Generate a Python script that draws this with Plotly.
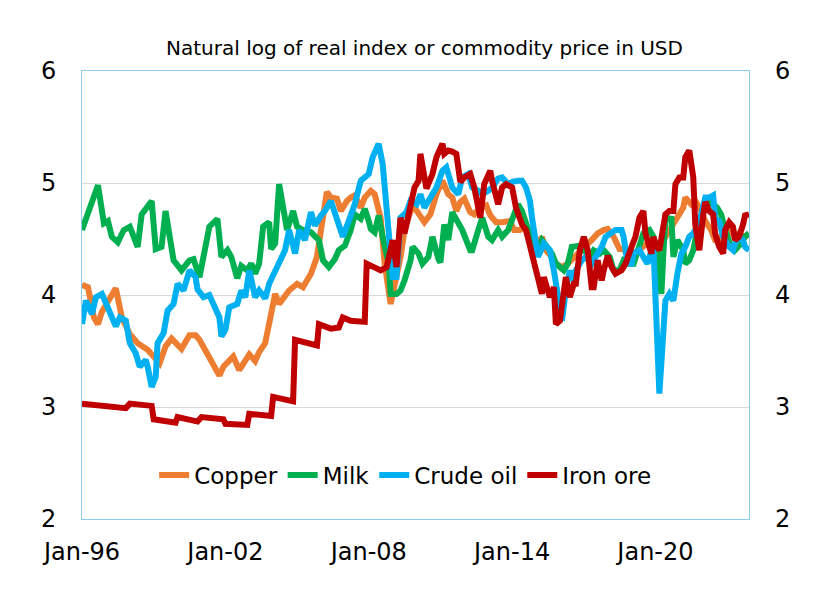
import plotly.graph_objects as go

# ---------------- data ----------------
copper_dates = ["1996-01","1996-04","1996-07","1996-09","1996-11","1997-02","1997-06","1997-09","1998-01","1998-05",
    "1998-10","1999-04","1999-07","1999-10","2000-03","2000-07","2000-10","2000-12","2001-03","2001-05",
    "2001-08","2001-10","2001-12","2002-03","2002-05","2002-08","2002-11","2003-01","2003-04","2003-06",
    "2003-09","2003-11","2004-02","2004-04","2004-07","2004-09","2005-01","2005-04","2005-08","2005-11",
    "2006-01","2006-04","2006-06","2006-09","2006-11","2007-02","2007-04","2007-06","2007-09","2007-11",
    "2008-02","2008-04","2008-07","2008-09","2008-12","2009-02","2009-05","2009-07","2009-10","2009-12",
    "2010-03","2010-05","2010-08","2010-11","2011-02","2011-05","2011-07","2011-09","2011-11","2012-01",
    "2012-04","2012-06","2012-09","2012-12","2013-02","2013-05","2013-08","2013-12","2014-02","2014-05",
    "2014-07","2014-10","2014-12","2015-04","2015-06","2015-09","2015-11","2016-02","2016-05","2016-08",
    "2016-11","2017-02","2017-05","2017-08","2017-11","2018-01","2018-04","2018-07","2018-09","2018-12",
    "2019-02","2019-06","2019-09","2020-01","2020-03","2020-05","2020-09","2020-12","2021-03","2021-04",
    "2021-07","2021-09","2021-12","2022-02","2022-05","2022-07","2022-09","2022-11","2023-02","2023-05",
    "2023-07","2023-10","2023-12"]
copper_vals = [4.09,4.07,3.80,3.74,3.85,3.95,4.06,3.80,3.65,3.57,
    3.51,3.39,3.54,3.61,3.52,3.64,3.64,3.60,3.51,3.45,
    3.36,3.28,3.36,3.42,3.45,3.33,3.42,3.47,3.41,3.49,
    3.57,3.74,4.01,3.92,3.98,4.04,4.10,4.07,4.19,4.34,
    4.58,4.92,4.87,4.86,4.75,4.84,4.87,4.89,4.78,4.87,
    4.93,4.90,4.69,4.28,3.92,4.07,4.34,4.58,4.75,4.78,
    4.69,4.65,4.72,4.90,5.02,4.90,4.87,4.75,4.83,4.86,
    4.74,4.72,4.78,4.80,4.71,4.65,4.65,4.66,4.58,4.58,
    4.61,4.49,4.37,4.52,4.40,4.34,4.28,4.25,4.28,4.34,
    4.40,4.44,4.49,4.55,4.58,4.59,4.52,4.41,4.41,4.34,
    4.37,4.43,4.46,4.40,4.37,4.49,4.61,4.69,4.78,4.87,
    4.81,4.84,4.75,4.66,4.58,4.49,4.49,4.55,4.58,4.52,
    4.55,4.52,4.55]

milk_dates = ["1996-01","1996-09","1996-12","1997-02","1997-04","1997-07","1997-10","1998-01","1998-05","1998-07",
    "1998-12","1999-02","1999-05","1999-07","1999-11","2000-03","2000-07","2000-09","2000-12","2001-02",
    "2001-05","2001-09","2001-11","2002-02","2002-04","2002-07","2002-09","2002-12","2003-02","2003-04",
    "2003-06","2003-08","2003-11","2003-12","2004-02","2004-04","2004-05","2004-08","2004-11","2005-01",
    "2005-04","2005-08","2005-12","2006-02","2006-05","2006-08","2006-10","2007-01","2007-04","2007-06",
    "2007-09","2007-11","2008-01","2008-02","2008-04","2008-06","2008-08","2008-11","2008-12","2009-03",
    "2009-05","2009-07","2009-10","2009-11","2010-02","2010-04","2010-07","2010-09","2010-12","2011-01",
    "2011-03","2011-05","2011-07","2011-10","2011-12","2012-04","2012-05","2012-08","2012-10","2013-01",
    "2013-03","2013-06","2013-08","2013-11","2014-01","2014-04","2014-06","2014-08","2014-11","2015-01",
    "2015-04","2015-07","2015-09","2015-11","2016-01","2016-03","2016-05","2016-07","2016-11","2017-01",
    "2017-04","2017-06","2017-09","2017-11","2018-02","2018-04","2018-07","2018-09","2018-12","2019-02",
    "2019-05","2019-07","2019-10","2019-12","2020-02","2020-04","2020-05","2020-06","2020-09","2020-10",
    "2020-12","2021-03","2021-04","2021-06","2021-08","2021-10","2022-01","2022-03","2022-06","2022-08",
    "2022-10","2022-12","2023-03","2023-05","2023-08","2023-10","2023-12"]
milk_vals = [4.58,4.98,4.64,4.66,4.52,4.47,4.58,4.61,4.43,4.72,
    4.84,4.41,4.43,4.75,4.31,4.22,4.31,4.32,4.16,4.37,
    4.61,4.68,4.34,4.40,4.34,4.15,4.26,4.22,4.28,4.19,
    4.28,4.61,4.65,4.41,4.46,4.99,4.87,4.58,4.75,4.61,
    4.58,4.56,4.49,4.31,4.25,4.32,4.40,4.44,4.58,4.72,
    4.68,4.77,4.66,4.59,4.56,4.71,4.52,4.28,4.01,4.01,
    4.04,4.13,4.31,4.43,4.37,4.28,4.34,4.52,4.32,4.29,
    4.63,4.49,4.74,4.63,4.58,4.40,4.40,4.58,4.69,4.52,
    4.49,4.58,4.52,4.58,4.69,4.81,4.75,4.63,4.49,4.37,
    4.49,4.43,4.37,4.28,4.25,4.22,4.28,4.43,4.44,4.40,
    4.34,4.40,4.37,4.40,4.34,4.22,4.22,4.31,4.28,4.28,
    4.46,4.55,4.58,4.52,4.37,4.01,4.37,4.69,4.68,4.34,
    4.49,4.40,4.28,4.31,4.40,4.58,4.75,4.84,4.81,4.78,
    4.72,4.58,4.43,4.40,4.46,4.52,4.55]

oil_dates = ["1996-01","1996-03","1996-06","1996-08","1996-11","1997-01","1997-04","1997-06","1997-08","1997-11",
    "1998-01","1998-04","1998-06","1998-09","1998-10","1998-12","1999-02","1999-03","1999-06","1999-08",
    "1999-11","2000-01","2000-04","2000-06","2000-07","2000-10","2000-11","2001-02","2001-05","2001-07",
    "2001-10","2001-11","2002-01","2002-03","2002-07","2002-09","2002-11","2003-01","2003-04","2003-06",
    "2003-09","2003-11","2004-02","2004-04","2004-07","2004-09","2004-12","2005-02","2005-05","2005-08",
    "2005-10","2006-01","2006-03","2006-06","2006-10","2006-12","2007-03","2007-06","2007-09","2008-01",
    "2008-03","2008-06","2008-08","2008-10","2008-12","2009-01","2009-03","2009-05","2009-08","2009-10",
    "2010-01","2010-03","2010-05","2010-08","2010-11","2011-02","2011-04","2011-06","2011-07","2011-10",
    "2011-12","2012-03","2012-05","2012-08","2012-10","2013-01","2013-03","2013-06","2013-08","2013-11",
    "2014-01","2014-04","2014-06","2014-08","2014-10","2014-11","2015-01","2015-02","2015-05","2015-08",
    "2015-10","2015-11","2016-01","2016-02","2016-04","2016-06","2016-07","2016-09","2016-12","2017-02",
    "2017-05","2017-07","2017-10","2017-12","2018-03","2018-05","2018-08","2018-09","2018-11","2019-01",
    "2019-02","2019-05","2019-07","2019-09","2019-11","2019-12","2020-03","2020-05","2020-06","2020-08",
    "2020-10","2020-12","2021-02","2021-04","2021-06","2021-08","2021-10","2021-12","2022-02","2022-04",
    "2022-06","2022-07","2022-09","2022-11","2022-12","2023-02","2023-04","2023-05","2023-07","2023-09",
    "2023-10","2023-12"]
oil_vals = [3.74,3.95,3.83,3.98,4.01,3.92,3.80,3.72,3.80,3.77,
    3.57,3.48,3.36,3.42,3.36,3.18,3.27,3.57,3.66,3.86,
    3.92,4.10,4.04,4.19,4.22,4.16,4.05,3.98,4.00,3.92,
    3.80,3.63,3.69,3.89,3.92,4.04,3.98,4.22,3.98,4.04,
    3.97,4.10,4.22,4.29,4.40,4.58,4.37,4.58,4.49,4.74,
    4.62,4.71,4.75,4.84,4.63,4.52,4.66,4.81,5.02,5.08,
    5.23,5.35,5.17,4.72,4.22,4.16,4.16,4.69,4.74,4.84,
    4.81,4.90,4.78,4.87,4.96,5.11,5.14,5.02,4.96,4.90,
    5.05,5.08,4.96,4.93,4.90,4.93,4.96,5.04,5.05,4.99,
    5.01,5.02,5.02,4.96,4.84,4.69,4.46,4.34,4.46,4.40,
    4.22,4.10,3.92,3.77,4.04,4.22,4.13,4.22,4.31,4.34,
    4.28,4.34,4.43,4.52,4.55,4.58,4.58,4.52,4.28,4.28,
    4.37,4.40,4.34,4.28,4.40,4.43,3.12,3.69,3.95,4.01,
    3.95,4.19,4.37,4.43,4.52,4.55,4.61,4.72,4.87,4.87,
    4.89,4.69,4.66,4.52,4.49,4.43,4.40,4.46,4.52,4.49,
    4.43,4.40]

iron_dates = ["1996-01","1997-02","1997-11","1998-01","1998-12","1999-01","1999-07","1999-12","2000-01","2000-06",
    "2000-11","2001-01","2001-12","2002-01","2002-12","2003-01","2003-12","2004-01","2004-11","2004-12",
    "2005-11","2005-12","2006-06","2006-10","2006-12","2007-04","2007-11","2007-12","2008-07","2008-10",
    "2008-12","2009-01","2009-03","2009-05","2009-07","2009-09","2009-12","2010-02","2010-03","2010-06",
    "2010-09","2010-11","2011-02","2011-03","2011-05","2011-07","2011-09","2011-11","2012-01","2012-04",
    "2012-06","2012-09","2012-11","2013-02","2013-03","2013-06","2013-08","2013-10","2014-01","2014-03",
    "2014-06","2014-08","2014-11","2015-01","2015-04","2015-05","2015-08","2015-10","2015-11","2016-01",
    "2016-03","2016-04","2016-06","2016-08","2016-09","2016-11","2017-01","2017-03","2017-05","2017-06",
    "2017-08","2017-10","2017-11","2018-01","2018-03","2018-05","2018-08","2018-10","2019-01","2019-03",
    "2019-05","2019-07","2019-08","2019-11","2019-12","2020-01","2020-03","2020-05","2020-06","2020-08",
    "2020-10","2020-11","2021-01","2021-03","2021-04","2021-06","2021-08","2021-09","2021-11","2022-01",
    "2022-02","2022-04","2022-06","2022-07","2022-09","2022-11","2022-12","2023-02","2023-04","2023-05",
    "2023-07","2023-09","2023-10","2023-12"]
iron_vals = [3.03,3.00,2.99,3.03,3.01,2.89,2.88,2.86,2.91,2.89,
    2.87,2.91,2.89,2.85,2.84,2.94,2.92,3.09,3.05,3.60,
    3.55,3.74,3.70,3.71,3.80,3.77,3.76,4.28,4.22,4.25,
    4.40,4.49,4.25,4.69,4.55,4.72,4.96,5.02,5.26,4.95,
    5.08,5.23,5.35,5.26,5.29,5.28,5.26,5.01,5.05,5.08,
    4.96,4.69,4.99,5.11,5.02,4.81,4.96,4.99,4.96,4.78,
    4.63,4.58,4.37,4.25,4.01,4.16,3.98,4.07,3.74,3.77,
    4.07,4.16,3.98,4.10,4.10,4.40,4.52,4.40,4.07,4.07,
    4.31,4.13,4.22,4.35,4.25,4.19,4.22,4.28,4.43,4.52,
    4.69,4.75,4.55,4.37,4.52,4.46,4.40,4.58,4.72,4.75,
    4.75,4.99,5.05,5.05,5.23,5.29,5.05,4.63,4.40,4.72,
    4.83,4.75,4.72,4.55,4.43,4.37,4.58,4.65,4.61,4.49,
    4.52,4.63,4.71,4.72]

tick_dates = ["1996-01-01", "2002-01-01", "2008-01-01", "2014-01-01", "2020-01-01"]
tick_labels = ["Jan-96", "Jan-02", "Jan-08", "Jan-14", "Jan-20"]
y_ticks = [2, 3, 4, 5, 6]

series = [
    ("Copper", copper_dates, copper_vals, "#ED7D31", "y"),
    ("Milk", milk_dates, milk_vals, "#00B050", "y"),
    ("Crude oil", oil_dates, oil_vals, "#00B0F0", "y"),
    ("Iron ore", iron_dates, iron_vals, "#C00000", "y2"),
]

FONT = "DejaVu Sans, Verdana, sans-serif"
BORDER = "#8CCDEB"

fig = go.Figure()
for name, xs, ys, color, yax in series:
    fig.add_trace(go.Scatter(
        x=xs, y=ys, name=name, mode="lines", yaxis=yax,
        line=dict(color=color, width=6),
        hoverinfo="skip",
    ))

# the page body has an 8px margin, so the figure is sized/offset to compensate
fig.update_layout(
    width=813, height=602, autosize=False,
    margin=dict(l=74, r=72, t=63, b=91, pad=0, autoexpand=False),
    paper_bgcolor="white", plot_bgcolor="white",
    font=dict(family=FONT, color="black"),
    showlegend=True,
    legend=dict(
        orientation="h", x=0.4845, xanchor="center", y=0.098, yanchor="middle",
        font=dict(family=FONT, size=23, color="black"),
        bgcolor="rgba(0,0,0,0)", itemwidth=30, traceorder="normal",
    ),
    xaxis=dict(
        type="date", range=["1996-01-01", "2023-12-01"],
        tickmode="array", tickvals=tick_dates, ticktext=tick_labels,
        showgrid=False, zeroline=False, showline=True, linecolor=BORDER, linewidth=1,
        mirror=True, ticks="", tickfont=dict(family=FONT, size=24, color="black"),
        ticklabelstandoff=11, automargin=False,
    ),
    yaxis=dict(
        range=[2, 6], tickmode="array", tickvals=y_ticks,
        showgrid=True, gridcolor="#D9D9D9", gridwidth=1, zeroline=False,
        showline=True, linecolor=BORDER, linewidth=1, mirror=True, ticks="",
        tickfont=dict(family=FONT, size=24, color="black"), ticklabelstandoff=20,
        automargin=False,
    ),
    yaxis2=dict(
        range=[2, 6], tickmode="array", tickvals=y_ticks, overlaying="y", side="right",
        showgrid=False, zeroline=False, showline=False, ticks="",
        tickfont=dict(family=FONT, size=24, color="black"), ticklabelstandoff=25,
        automargin=False,
    ),
    annotations=[dict(
        text="Natural log of real index or commodity price in USD",
        xref="paper", yref="paper", x=0.5135, y=1.051, xanchor="center", yanchor="middle",
        showarrow=False, font=dict(family=FONT, size=20, color="black"),
    )],
)

fig.write_html("out.html")
